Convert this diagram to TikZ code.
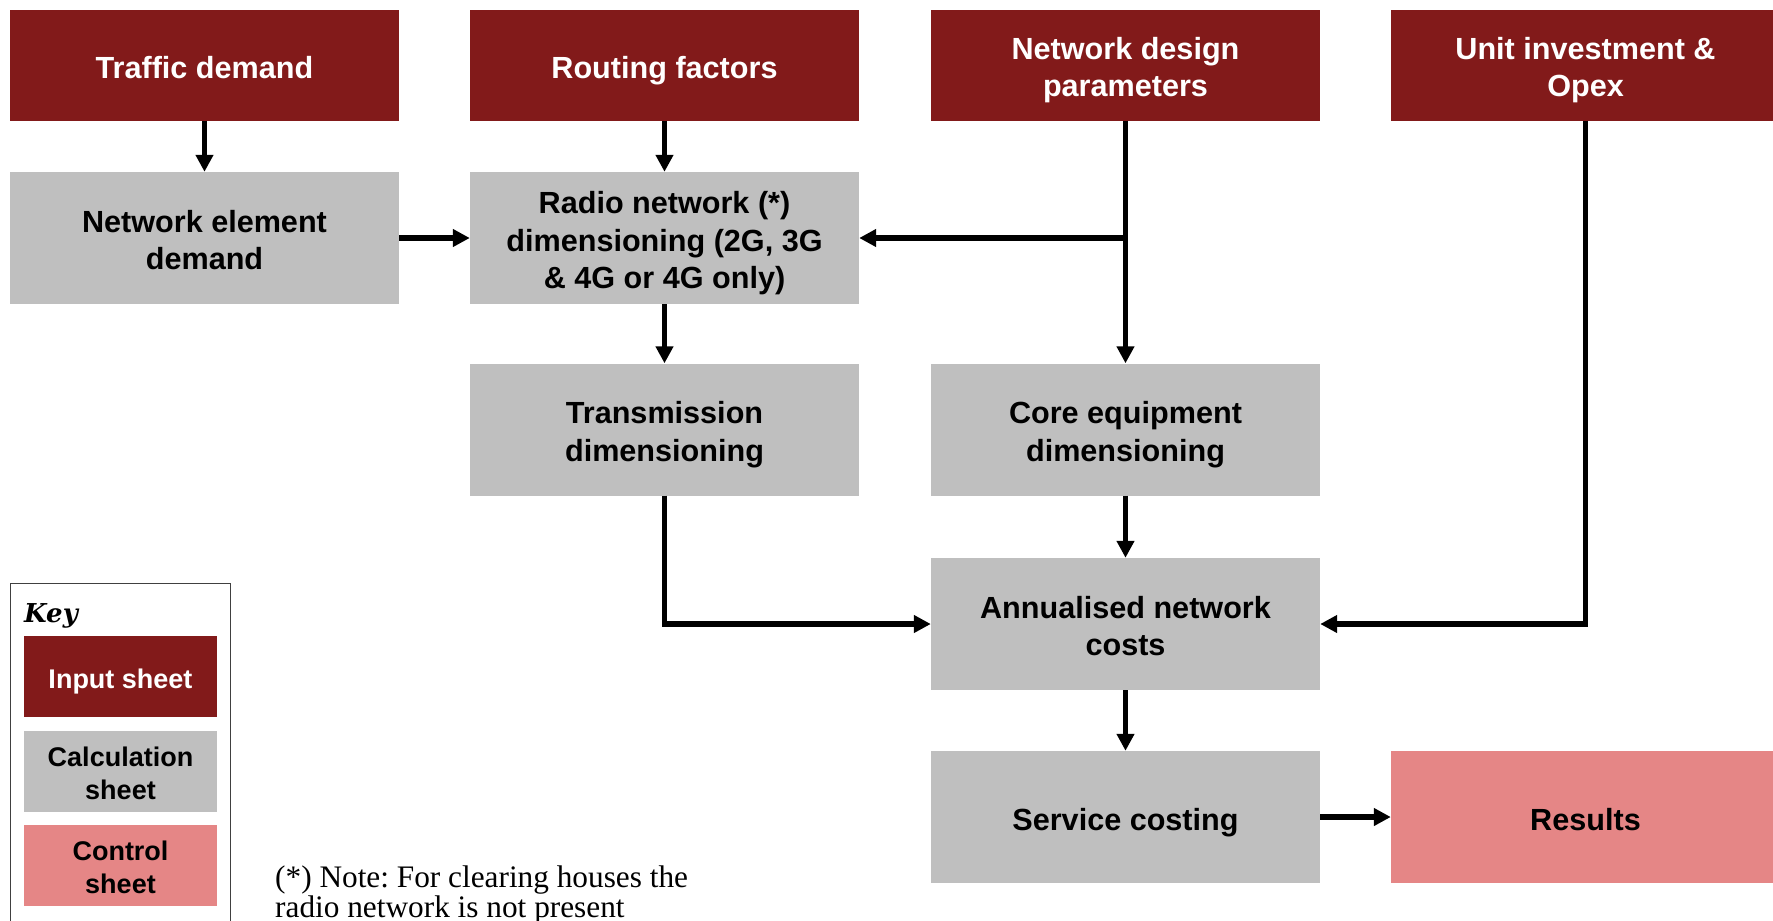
\documentclass[tikz,border=0pt]{standalone}
\usepackage{fontspec}
\setmainfont{Liberation Sans}
\newfontfamily\notefont{Liberation Serif}
\newfontfamily\keyfont{DejaVu Serif}
\usetikzlibrary{arrows.meta}
\definecolor{inputred}{HTML}{821A1A}
\definecolor{calcgray}{HTML}{BFBFBF}
\definecolor{ctrlpink}{HTML}{E58686}
\frenchspacing

\begin{document}
\begin{tikzpicture}[x=1pt,y=-1pt,
  box/.style={minimum width=389pt, inner sep=0pt},
  inbox/.style={box, fill=inputred, minimum height=111pt},
  calcbox/.style={box, fill=calcgray, minimum height=132pt},
  ctrlbox/.style={box, fill=ctrlpink, minimum height=132pt},
  % box captions, set on the baseline of their last line
  boxtext/.style={inner sep=0pt, align=center, anchor=base,
    font=\fontsize{30.6}{37.5}\selectfont\bfseries},
  lineone/.style={boxtext, yshift=-13pt},
  linetwo/.style={boxtext, yshift=-31.75pt},
  linethree/.style={boxtext, yshift=-50.5pt},
  keyitem/.style={minimum width=193pt, minimum height=81pt, inner sep=0pt},
  keytext/.style={inner sep=0pt, align=center, anchor=base,
    font=\fontsize{27}{33}\selectfont\bfseries},
  keyone/.style={keytext, yshift=-12pt},
  keytwo/.style={keytext, yshift=-28.5pt},
  flow/.style={-{Triangle[length=17pt,width=17pt]}, line join=miter},
  vflow/.style={flow, line width=4.6pt},
  hflow/.style={flow, line width=5.8pt}
]
\useasboundingbox (0,0) rectangle (1773,921);

% input sheets
\node[inbox] (traffic) at (204.5,65) {};
\node[inbox] (routing) at (664.5,65) {};
\node[inbox] (design)  at (1125.5,65) {};
\node[inbox] (unit)    at (1585.5,65) {};
\node[lineone, text=white] (traffic-t) at (traffic.center) {Traffic demand};
\node[lineone, text=white] (routing-t) at (routing.center) {Routing factors};
\node[linetwo, text=white] (design-t)  at (design.center)  {Network design\\parameters};
\node[linetwo, text=white] (unit-t)    at (unit.center)    {Unit investment \&\\Opex};

% calculation sheets
\node[calcbox] (ned)     at (204.5,238)    {};
\node[calcbox] (radio)   at (664.5,238)    {};
\node[calcbox] (trans)   at (664.5,429.5)  {};
\node[calcbox] (core)    at (1125.5,429.5) {};
\node[calcbox] (annual)  at (1125.5,624)   {};
\node[calcbox] (service) at (1125.5,817)   {};
\node[linetwo]   (ned-t)     at (ned.center)     {Network element\\demand};
\node[linethree] (radio-t)   at (radio.center)   {Radio network (*)\\dimensioning (2G, 3G\\\& 4G or 4G only)};
\node[linetwo]   (trans-t)   at (trans.center)   {Transmission\\dimensioning};
\node[linetwo]   (core-t)    at (core.center)    {Core equipment\\dimensioning};
\node[linetwo]   (annual-t)  at (annual.center)  {Annualised network\\costs};
\node[lineone]   (service-t) at (service.center) {Service costing};

% control sheet
\node[ctrlbox] (results) at (1585.5,817) {};
\node[lineone] (results-t) at (results.center) {Results};

% flows
\draw[vflow] (traffic) -- (ned);
\draw[vflow] (routing) -- (radio);
\draw[hflow] (ned) -- (radio);
\draw[vflow] (radio) -- (trans);
\draw[vflow] (design) -- (core);
\coordinate (branch) at (design.south |- radio.east);
\draw[hflow] (branch) -- (radio.east);
\draw[vflow] (core) -- (annual);
\draw[vflow] (annual) -- (service);
\draw[hflow] (service) -- (results);
\draw[hflow] (trans.south) |- (annual.west);
\draw[hflow] (unit.south) |- (annual.east);

% key
\draw[black!75, line width=1pt] (10.5,930) -- (10.5,583) -- (230.5,583) -- (230.5,930);
\node[anchor=base west, inner sep=0pt,
  font=\keyfont\fontsize{26}{30}\selectfont\bfseries\itshape] (keylabel) at (24,622) {Key};
\node[keyitem, fill=inputred] (keyin)   at (120.5,676.5) {};
\node[keyitem, fill=calcgray] (keycalc) at (120.5,771)   {};
\node[keyitem, fill=ctrlpink] (keyctrl) at (120.5,865)   {};
\node[keyone, text=white] (keyin-t) at (keyin.center) {Input sheet};
\node[keytwo] (keycalc-t) at (keycalc.center) {Calculation\\sheet};
\node[keytwo] (keyctrl-t) at (keyctrl.center) {Control\\sheet};

% footnote (anchored on the baseline of its last line)
\node[anchor=base west, inner sep=0pt, align=left,
  font=\notefont\fontsize{31.3}{30}\selectfont] (note) at (275,917)
  {(*) Note: For clearing houses the\\radio network is not present};
\end{tikzpicture}
\end{document}
